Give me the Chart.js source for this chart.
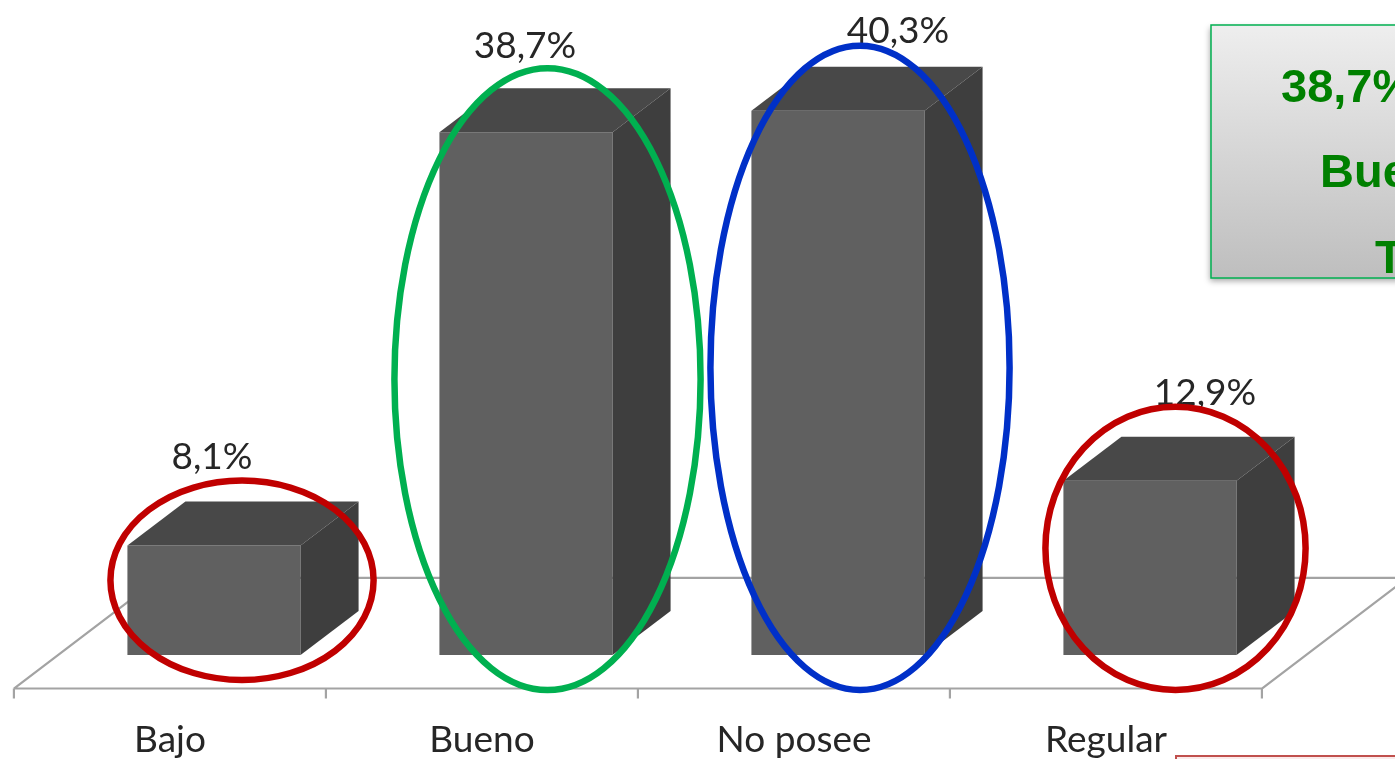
<!DOCTYPE html>
<html>
<head>
<meta charset="utf-8">
<script src="https://cdn.jsdelivr.net/npm/chart.js@4.4.1/dist/chart.umd.min.js"></script>
<style>
  html, body { margin: 0; padding: 0; background: #ffffff; overflow: hidden; }
  #wrap { width: 1395px; height: 759px; position: relative; }
</style>
</head>
<body>
<div id="wrap"><canvas id="c" width="1395" height="759"></canvas></div>
<script>
// ---- data ----
const categories = ['Bajo', 'Bueno', 'No posee', 'Regular'];
const values = [8.1, 38.7, 40.3, 12.9];
const valueLabels = ['8,1%', '38,7%', '40,3%', '12,9%'];
const highlightColors = ['#C00000', '#00B050', '#0030C8', '#C00000'];
const noteLines = ['38,7% tiene un', 'Bueno nivel de', 'TIC'];

// ---- style / layout config ----
const FONT = 'Lato, "Open Sans", sans-serif';
const DEPTH_X = 0.335;   // depth as fraction of bar width
const DEPTH_Y = 0.76;    // vertical rise per horizontal depth
// label shifts relative to front-face centre (dx) and above back-top (dy)
const labelShift = [[-2, 33], [-1, 30], [60, 24], [55, 32]];
// ellipse padding around the 3D bar box: [left, right, top, bottom]
const ellipsePad = [[17, 15, 21, 25], [45, 30, 20, 35], [41, 27, 21, 35], [18, 11, 30, 35]];

const threeD = {
  id: 'threeD',
  beforeDatasetsDraw(chart) {
    const ctx = chart.ctx;
    const meta = chart.getDatasetMeta(0);
    const xs = chart.scales.x;
    const ys = chart.scales.y;
    const bw = meta.data[0].width;
    const dx = bw * DEPTH_X;
    const base = ys.getPixelForValue(0);
    const step = xs.getPixelForValue(1) - xs.getPixelForValue(0);
    const left = xs.getPixelForValue(0) - step / 2;
    const right = xs.getPixelForValue(categories.length - 1) + step / 2;
    const fShift = 0.76 * dx;
    const frontY = base + fShift * DEPTH_Y;
    const run = 2.51 * dx;
    const backY = frontY - run * DEPTH_Y;
    const fl = left - fShift, fr = right - fShift;
    ctx.save();
    ctx.strokeStyle = '#A3A3A3';
    ctx.lineWidth = 2.2;
    ctx.beginPath();
    ctx.moveTo(fl, frontY); ctx.lineTo(fr, frontY);
    ctx.moveTo(fl, frontY); ctx.lineTo(fl + run, backY);
    ctx.lineTo(fr + run, backY);
    ctx.moveTo(fr, frontY); ctx.lineTo(fr + run, backY);
    for (let i = 0; i <= categories.length; i++) {
      const tx = fl + i * step;
      ctx.moveTo(tx, frontY); ctx.lineTo(tx, frontY + 10);
    }
    ctx.stroke();
    ctx.restore();
  },
  afterDatasetsDraw(chart) {
    const ctx = chart.ctx;
    const meta = chart.getDatasetMeta(0);
    ctx.save();
    meta.data.forEach((bar, i) => {
      const x0 = bar.x - bar.width / 2, x1 = bar.x + bar.width / 2;
      const top = bar.y, base = bar.base;
      const dx = bar.width * DEPTH_X, dy = dx * DEPTH_Y;
      ctx.fillStyle = '#484848';
      ctx.beginPath();
      ctx.moveTo(x0, top); ctx.lineTo(x0 + dx, top - dy);
      ctx.lineTo(x1 + dx, top - dy); ctx.lineTo(x1, top); ctx.closePath();
      ctx.fill();
      ctx.fillStyle = '#3E3E3E';
      ctx.beginPath();
      ctx.moveTo(x1, top); ctx.lineTo(x1 + dx, top - dy);
      ctx.lineTo(x1 + dx, base - dy); ctx.lineTo(x1, base); ctx.closePath();
      ctx.fill();
      ctx.fillStyle = '#262626';
      ctx.font = '37px ' + FONT;
      ctx.textAlign = 'center';
      ctx.textBaseline = 'alphabetic';
      ctx.fillText(valueLabels[i], bar.x + labelShift[i][0], top - dy - labelShift[i][1]);
    });
    ctx.restore();
  },
  afterDraw(chart) {
    const ctx = chart.ctx;
    const meta = chart.getDatasetMeta(0);
    ctx.save();
    meta.data.forEach((bar, i) => {
      const dx = bar.width * DEPTH_X, dy = dx * DEPTH_Y;
      const L = bar.x - bar.width / 2 - ellipsePad[i][0];
      const R = bar.x + bar.width / 2 + dx + ellipsePad[i][1];
      const T = bar.y - dy - ellipsePad[i][2];
      const B = bar.base + ellipsePad[i][3];
      ctx.strokeStyle = highlightColors[i];
      ctx.lineWidth = 6.5;
      ctx.beginPath();
      ctx.ellipse((L + R) / 2, (T + B) / 2, (R - L) / 2, (B - T) / 2, 0, 0, Math.PI * 2);
      ctx.stroke();
    });
    const bx = 1211, by = 25, bwid = 260, bh = 253;
    ctx.shadowColor = 'rgba(0,0,0,0.35)';
    ctx.shadowBlur = 6;
    ctx.shadowOffsetX = -1;
    ctx.shadowOffsetY = 3;
    const g = ctx.createLinearGradient(0, by, 0, by + bh);
    g.addColorStop(0, '#EEEEEE');
    g.addColorStop(1, '#BEBEBE');
    ctx.fillStyle = g;
    ctx.fillRect(bx, by, bwid, bh);
    ctx.shadowColor = 'transparent';
    ctx.strokeStyle = '#00B050';
    ctx.lineWidth = 1.5;
    ctx.strokeRect(bx, by, bwid, bh);
    ctx.fillStyle = '#008000';
    ctx.font = 'bold 47px "Liberation Sans", Arial, sans-serif';
    ctx.textAlign = 'left';
    ctx.textBaseline = 'alphabetic';
    ctx.fillText(noteLines[0], 1281, 102);
    ctx.fillText(noteLines[1], 1320, 187);
    ctx.fillText(noteLines[2], 1375, 273);
    ctx.fillStyle = '#FBEAEA';
    ctx.fillRect(1176, 756, 240, 40);
    ctx.strokeStyle = '#C0504D';
    ctx.lineWidth = 2;
    ctx.strokeRect(1176, 756, 240, 40);
    ctx.restore();
  }
};

new Chart(document.getElementById('c'), {
  type: 'bar',
  data: {
    labels: categories,
    datasets: [{
      data: values,
      backgroundColor: '#606060',
      borderWidth: 0,
      categoryPercentage: 1,
      barPercentage: 0.555
    }]
  },
  options: {
    responsive: false,
    animation: false,
    layout: { padding: { left: 58, right: 89, top: 0, bottom: 0 } },
    plugins: { legend: { display: false }, tooltip: { enabled: false } },
    scales: {
      y: { display: false, min: 0, max: 48.5 },
      x: {
        display: true,
        grid: { display: false, drawTicks: false },
        border: { display: false },
        ticks: {
          color: '#262626',
          font: { family: FONT, size: 37, lineHeight: 1 },
          padding: 67,
          labelOffset: -44,
          maxRotation: 0
        },
        afterFit(scale) { scale.height = 104; }
      }
    }
  },
  plugins: [threeD]
});
</script>
</body>
</html>
